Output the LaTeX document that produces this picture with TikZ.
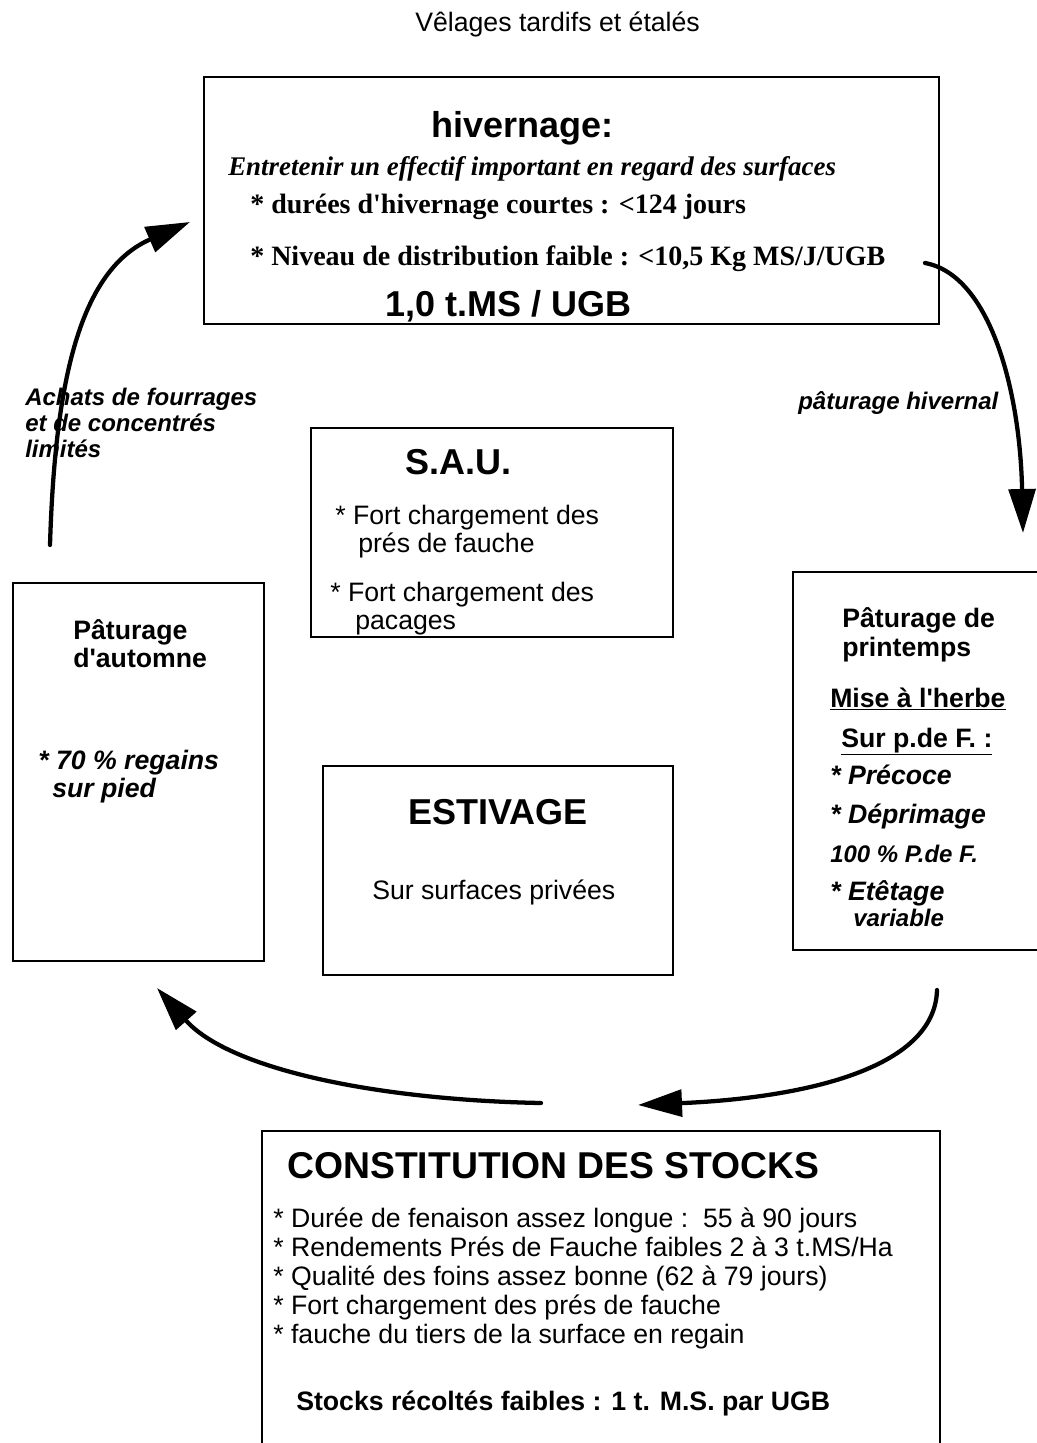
\documentclass[tikz,border=0pt]{standalone}
\usepackage{fontspec}
\setmainfont{Liberation Sans}
\newfontfamily\timesfont{Liberation Serif}
\usetikzlibrary{arrows.meta}

\begin{document}
\begin{tikzpicture}[
x=0.75pt, y=-0.75pt,
boxnode/.style={draw=black, line width=1.4pt, anchor=north west, inner sep=0pt, outer sep=0pt},
txt/.style={anchor=base west, inner sep=0pt, font=\fontsize{20}{24}\selectfont},
boldtxt/.style={txt, font=\fontsize{20}{24}\selectfont\bfseries},
itxt/.style={txt, font=\fontsize{20}{24}\selectfont\bfseries\itshape},
smalltxt/.style={txt, font=\fontsize{18}{22}\selectfont\bfseries\itshape},
bigtxt/.style={txt, font=\fontsize{27}{32}\selectfont\bfseries},
seriftxt/.style={txt, font=\fontsize{21}{25}\selectfont\timesfont\bfseries},
serifitxt/.style={txt, font=\fontsize{20.2}{24}\selectfont\timesfont\bfseries\itshape},
arrowline/.style={line width=3.2pt, line cap=round, -{Triangle[length=33pt,width=20pt]}},
]
\useasboundingbox (0,0) rectangle (1037,1443);

%Boxes
\node[boxnode, minimum width=551.25pt, minimum height=185.25pt] (hiv) at (204,77) {};
\node[boxnode, minimum width=271.5pt, minimum height=156.75pt] (sau) at (311,428) {};
\node[boxnode, minimum width=188.25pt, minimum height=283.5pt] (aut) at (13,583) {};
\node[boxnode, minimum width=262.5pt, minimum height=156.75pt] (est) at (323,766) {};
\node[boxnode, minimum width=195pt, minimum height=283.5pt] (print) at (793,572) {};
\node[boxnode, minimum width=508.5pt, minimum height=247.5pt] (stock) at (262,1131) {};

%Texts
\node[txt] (title) at (415,31) {Vêlages tardifs et étalés};

\node[bigtxt] (hivT) at (431,137) {hivernage:};
\node[serifitxt] (hiv1) at (228,175) {Entretenir un effectif important en regard des surfaces};
\node[seriftxt] (hiv2) at (250,213) {* durées d\textquotesingle hivernage courtes : <124 jours};
\node[seriftxt] (hiv3) at (250,265) {* Niveau de distribution faible : <10,5 Kg MS/J/UGB};
\node[bigtxt] (hiv4) at (385,316) {1,0 t.MS / UGB};

\node[smalltxt] (ach1) at (25,405) {Achats de fourrages};
\node[smalltxt] (ach2) at (25,431) {et de concentrés};
\node[smalltxt] (ach3) at (25,457) {limités};
\node[smalltxt] (phiv) at (798,409) {pâturage hivernal};

\node[bigtxt] (sauT) at (405,474) {S.A.U.};
\node[txt] (sau1) at (335,524) {* Fort chargement des};
\node[txt] (sau2) at (358,552) {prés de fauche};
\node[txt] (sau3) at (330,601) {* Fort chargement des};
\node[txt] (sau4) at (355,629) {pacages};

\node[boldtxt] (aut1) at (73,639) {Pâturage};
\node[boldtxt] (aut2) at (73,667) {d\textquotesingle automne};
\node[itxt] (aut3) at (38,769) {* 70 \% regains};
\node[itxt] (aut4) at (52,797) {sur pied};

\node[bigtxt] (estT) at (408,824) {ESTIVAGE};
\node[txt] (est1) at (372,899) {Sur surfaces privées};

\node[boldtxt] (pr1) at (842,627) {Pâturage de};
\node[boldtxt] (pr2) at (842,656) {printemps};
\node[boldtxt] (pr3) at (830,707) {\underline{Mise à l\textquotesingle herbe}};
\node[boldtxt] (pr4) at (841,747) {\underline{Sur p.de F. :}};
\node[itxt] (pr5) at (830,784) {* Précoce};
\node[itxt] (pr6) at (830,823) {* Déprimage};
\node[smalltxt] (pr7) at (830,862) {100 \% P.de F.};
\node[itxt] (pr8) at (830,900) {* Etêtage};
\node[smalltxt] (pr9) at (853,926) {variable};

\node[bigtxt, font=\fontsize{28}{33}\selectfont\bfseries] (stT) at (287,1178) {CONSTITUTION DES STOCKS};
\node[txt] (st1) at (273,1227) {* Durée de fenaison assez longue :\ \ 55 à 90 jours};
\node[txt] (st2) at (273,1256) {* Rendements Prés de Fauche faibles 2 à 3 t.MS/Ha};
\node[txt] (st3) at (273,1285) {* Qualité des foins assez bonne (62 à 79 jours)};
\node[txt] (st4) at (273,1314) {* Fort chargement des prés de fauche};
\node[txt] (st5) at (273,1343) {* fauche du tiers de la surface en regain};
\node[boldtxt] (st6) at (296,1410) {Stocks récoltés faibles : 1 t. M.S. par UGB};

%Arrow ends
\coordinate (a1s) at (50,545);
\coordinate (a1e) at (190,222);
\coordinate (a2s) at (925,263);
\coordinate (a2e) at (1023,533);
\coordinate (a3s) at (937,990);
\coordinate (a3e) at (638,1105);
\coordinate (a4s) at (541,1103);
\coordinate (a4e) at (157,988);

%Lines
\draw[arrowline] (a1s) .. controls (55,380) and (80,270) .. (a1e);
\draw[arrowline] (a2s) .. controls (990,275) and (1020,390) .. (a2e);
\draw[arrowline] (a3s) .. controls (935,1070) and (800,1098) .. (a3e);
\draw[arrowline] (a4s) .. controls (380,1100) and (230,1070) .. (a4e);
\end{tikzpicture}
\end{document}
